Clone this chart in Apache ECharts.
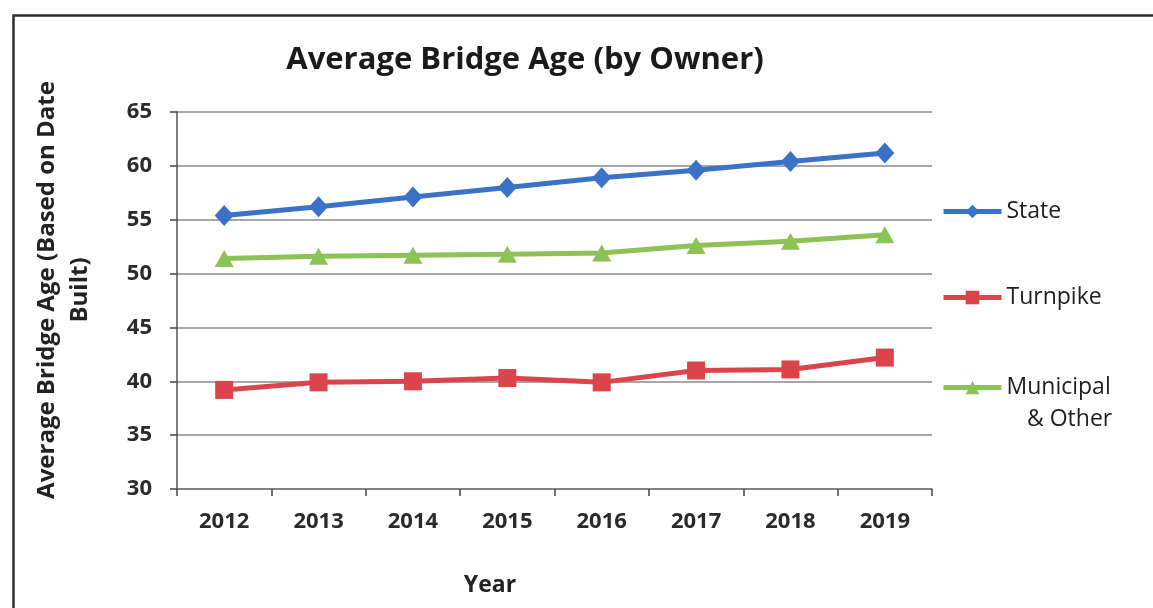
<!DOCTYPE html>
<html>
<head>
<meta charset="utf-8">
<title>Average Bridge Age (by Owner)</title>
<script src="https://cdn.jsdelivr.net/npm/echarts@6/dist/echarts.min.js"></script>
<style>
  html, body { margin: 0; padding: 0; background: #ffffff; }
  #chart { width: 1153px; height: 608px; }
</style>
</head>
<body>
<div id="chart"></div>
<script>
// Years on the category axis
const years = ['2012', '2013', '2014', '2015', '2016', '2017', '2018', '2019'];

// Average bridge age per owner group
const stateAge = [55.4, 56.2, 57.1, 58.0, 58.9, 59.6, 60.4, 61.2];
const turnpikeAge = [39.2, 39.9, 40.0, 40.3, 39.9, 41.0, 41.1, 42.2];
const municipalAge = [51.4, 51.6, 51.7, 51.8, 51.9, 52.6, 53.0, 53.6];

const FONT = '"Open Sans", "Noto Sans", sans-serif';

const chart = echarts.init(document.getElementById('chart'), null, { renderer: 'canvas' });

function legendAt(name, top, label) {
  return {
    data: [name],
    left: 941,
    top: top,
    orient: 'vertical',
    itemWidth: 58,
    itemHeight: 17,
    itemGap: 4,
    padding: 0,
    lineStyle: { width: 5 },
    formatter: () => label,
    textStyle: { fontFamily: FONT, fontSize: 23, color: '#1e1e1e' }
  };
}

chart.setOption({
  animation: false,
  backgroundColor: '#ffffff',
  title: {
    text: 'Average Bridge Age (by Owner)',
    left: 520,
    top: 40,
    textAlign: 'center',
    textStyle: { fontFamily: FONT, fontSize: 31, fontWeight: 'bold', color: '#1a1a1a' }
  },
  legend: [
    legendAt('State', 200, 'State'),
    legendAt('Turnpike', 286, 'Turnpike'),
    legendAt('Municipal & Other', 376, 'Municipal')
  ],
  grid: { left: 177, right: 221, top: 112, bottom: 119, containLabel: false },
  xAxis: {
    type: 'category',
    data: years,
    boundaryGap: true,
    axisLine: { lineStyle: { color: '#777', width: 1.5 } },
    axisTick: { show: true, inside: false, length: 7, alignWithLabel: false, lineStyle: { color: '#444', width: 1.5 } },
    axisLabel: { margin: 22, fontFamily: FONT, fontSize: 22, fontWeight: 'bold', color: '#2a2a2a' },
    splitLine: { show: false }
  },
  yAxis: {
    type: 'value',
    min: 30,
    max: 65,
    interval: 5,
    axisLine: { show: true, lineStyle: { color: '#555', width: 1.5 } },
    axisTick: { show: true, inside: false, length: 7, lineStyle: { color: '#444', width: 1.5 } },
    axisLabel: { margin: 25, fontFamily: FONT, fontSize: 22, fontWeight: 'bold', color: '#2a2a2a' },
    splitLine: { show: true, lineStyle: { color: '#8a8a8a', width: 1.5 } }
  },
  series: [
    {
      name: 'State',
      type: 'line',
      data: stateAge,
      symbol: 'diamond',
      symbolSize: [19, 21],
      lineStyle: { width: 5, color: '#3a72c8' },
      itemStyle: { color: '#3a72c8' }
    },
    {
      name: 'Turnpike',
      type: 'line',
      data: turnpikeAge,
      symbol: 'rect',
      symbolSize: 18,
      lineStyle: { width: 5, color: '#dc444b' },
      itemStyle: { color: '#dc444b' }
    },
    {
      name: 'Municipal & Other',
      type: 'line',
      data: municipalAge,
      symbol: 'triangle',
      symbolSize: [19, 17],
      lineStyle: { width: 5, color: '#8dc256' },
      itemStyle: { color: '#8dc256' }
    }
  ],
  graphic: [
    {
      // outer frame of the chart area
      type: 'rect',
      left: 11,
      top: 13,
      shape: { width: 1170, height: 640 },
      style: { fill: 'none', stroke: '#2e2e2e', lineWidth: 2.5 },
      silent: true
    },
    {
      // second line of the municipal legend entry
      type: 'text',
      left: 1027,
      top: 408,
      style: { text: '& Other', fontFamily: FONT, fontSize: 23, fill: '#1e1e1e' },
      silent: true
    },
    {
      // y-axis title
      type: 'text',
      x: 64,
      y: 290,
      rotation: Math.PI / 2,
      style: {
        text: 'Average Bridge Age (Based on Date\nBuilt)',
        fontFamily: FONT,
        fontSize: 24,
        fontWeight: 'bold',
        lineHeight: 33,
        align: 'center',
        verticalAlign: 'middle',
        fill: '#222'
      },
      silent: true
    },
    {
      // x-axis title
      type: 'text',
      x: 490,
      y: 585,
      style: {
        text: 'Year',
        fontFamily: FONT,
        fontSize: 23,
        fontWeight: 'bold',
        align: 'center',
        verticalAlign: 'middle',
        fill: '#222'
      },
      silent: true
    }
  ]
});
</script>
</body>
</html>
